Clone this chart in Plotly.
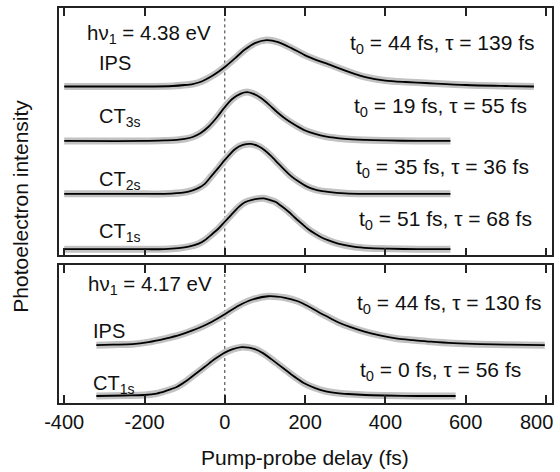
import plotly.graph_objects as go

# ---------------- data ----------------
# top panel, hv1 = 4.38 eV
ips_top_t = [-400, -200, -130, -100, -80, -65, -50, -32, -15, 0, 26, 50, 75, 104, 133, 166, 199, 232, 257, 280, 300, 325, 350, 400, 450, 500, 600, 700, 770]
ips_top_i = [0, 0, 0.01, 0.03, 0.05, 0.08, 0.13, 0.21, 0.30, 0.39, 0.57, 0.74, 0.87, 0.93, 0.89, 0.77, 0.63, 0.52, 0.45, 0.38, 0.32, 0.25, 0.19, 0.12, 0.09, 0.07, 0.03, 0.01, 0]

ct3s_top_t = [-400, -200, -150, -120, -100, -80, -60, -40, -20, 0, 20, 40, 55, 70, 90, 110, 130, 150, 175, 200, 225, 250, 300, 350, 400, 480, 562]
ct3s_top_i = [0, 0, 0.01, 0.02, 0.04, 0.08, 0.16, 0.29, 0.47, 0.68, 0.85, 0.95, 0.98, 0.95, 0.86, 0.73, 0.58, 0.45, 0.32, 0.21, 0.14, 0.09, 0.04, 0.02, 0.01, 0, 0]

ct2s_top_t = [-400, -200, -150, -100, -80, -65, -50, -32, -15, 0, 26, 45, 65, 85, 100, 115, 133, 150, 166, 183, 199, 215, 232, 257, 300, 350, 450, 562]
ct2s_top_i = [0, 0, 0, 0.03, 0.07, 0.12, 0.20, 0.37, 0.53, 0.68, 0.90, 0.98, 1.00, 0.95, 0.87, 0.76, 0.61, 0.47, 0.35, 0.25, 0.17, 0.11, 0.07, 0.04, 0.01, 0, 0, 0]

ct1s_top_t = [-400, -200, -150, -115, -90, -65, -50, -32, -15, 0, 15, 35, 50, 68, 97, 115, 126, 140, 159, 175, 192, 208, 225, 240, 257, 282, 320, 360, 405, 480, 562]
ct1s_top_i = [0, 0, 0, 0.02, 0.05, 0.11, 0.18, 0.30, 0.42, 0.55, 0.68, 0.85, 0.94, 0.99, 1.02, 0.98, 0.95, 0.87, 0.75, 0.63, 0.51, 0.40, 0.31, 0.24, 0.18, 0.11, 0.05, 0.02, 0.01, 0, 0]

# bottom panel, hv1 = 4.17 eV
ips_bot_t = [-320, -280, -230, -190, -148, -110, -82, -55, -32, 0, 34, 67, 108, 150, 182, 210, 232, 265, 282, 310, 348, 389, 430, 470, 513, 570, 637, 700, 797]
ips_bot_i = [0, 0.01, 0.02, 0.06, 0.13, 0.21, 0.29, 0.38, 0.47, 0.62, 0.79, 0.91, 0.98, 0.95, 0.88, 0.77, 0.67, 0.53, 0.46, 0.37, 0.27, 0.19, 0.13, 0.10, 0.07, 0.04, 0.02, 0.01, 0]

ct1s_bot_t = [-320, -250, -200, -170, -148, -120, -98, -75, -49, -25, 0, 20, 42, 60, 75, 95, 116, 137, 158, 178, 199, 225, 249, 280, 307, 350, 400, 480, 575]
ct1s_bot_i = [0, 0.01, 0.02, 0.05, 0.10, 0.18, 0.29, 0.43, 0.59, 0.74, 0.87, 0.94, 0.98, 0.97, 0.94, 0.86, 0.74, 0.61, 0.48, 0.36, 0.25, 0.16, 0.10, 0.06, 0.04, 0.02, 0.01, 0, 0]

x_ticks = [-400, -200, 0, 200, 400, 600, 800]

top_labels = ["IPS", "CT<sub>3s</sub>", "CT<sub>2s</sub>", "CT<sub>1s</sub>"]
top_fits = ["t<sub>0</sub> = 44 fs, τ = 139 fs", "t<sub>0</sub> = 19 fs, τ = 55 fs",
            "t<sub>0</sub> = 35 fs, τ = 36 fs", "t<sub>0</sub> = 51 fs, τ = 68 fs"]
bot_labels = ["IPS", "CT<sub>1s</sub>"]
bot_fits = ["t<sub>0</sub> = 44 fs, τ = 130 fs", "t<sub>0</sub> = 0 fs, τ = 56 fs"]

# ---------------- layout constants ----------------
W, H = 560, 472
ML, MR, MT, MB = 59, 6, 7, 69
PH = H - MT - MB
PW = W - ML - MR
TOP_Y0, TOP_Y1 = 255, 7      # pixel rows of top panel
BOT_Y0, BOT_Y1 = 403, 265    # pixel rows of bottom panel
UNIT = 50.0                   # pixels per intensity unit

def py2paper(py):
    return (H - MB - py) / PH

def px2paper(px):
    return (px - ML) / PW

top_offsets = [(TOP_Y0 - b) / UNIT for b in (85.7, 140.3, 193.3, 248.8)]
bot_offsets = [(BOT_Y0 - b) / UNIT for b in (345.0, 396.0)]

FONT = "Liberation Sans, Arial, sans-serif"
HALO = "#c2c2c2"

fig = go.Figure()

def add_curve(t, vals, off, yaxis):
    y = [off + v for v in vals]
    xa = "x" if yaxis == "y" else "x2"
    fig.add_trace(go.Scatter(x=t, y=y, mode="lines", yaxis=yaxis, xaxis=xa,
                             line=dict(color=HALO, width=7, shape="spline", smoothing=0.8),
                             hoverinfo="skip", showlegend=False))
    fig.add_trace(go.Scatter(x=t, y=y, mode="lines", yaxis=yaxis, xaxis=xa,
                             line=dict(color="#000000", width=1.8, shape="spline", smoothing=0.8),
                             showlegend=False))

for (t, v), off in zip([(ips_top_t, ips_top_i), (ct3s_top_t, ct3s_top_i),
                        (ct2s_top_t, ct2s_top_i), (ct1s_top_t, ct1s_top_i)], top_offsets):
    add_curve(t, v, off, "y2")
for (t, v), off in zip([(ips_bot_t, ips_bot_i), (ct1s_bot_t, ct1s_bot_i)], bot_offsets):
    add_curve(t, v, off, "y")

xr = [-413, 815]
axis_common = dict(showline=True, mirror="ticks", linecolor="#222", linewidth=1.6,
                   showgrid=False, zeroline=False)
# last tick label (800) is drawn as an annotation so it can be nudged inside the page
tick_text = [str(v) for v in x_ticks[:-1]] + [""]
fig.update_layout(
    width=W, height=H,
    margin=dict(l=ML, r=MR, t=MT, b=MB, pad=0),
    paper_bgcolor="white", plot_bgcolor="white",
    font=dict(family=FONT, size=20, color="#111"),
    xaxis=dict(domain=[0, 1], range=xr, anchor="y", tickvals=x_ticks,
               ticktext=tick_text, ticks="inside", ticklen=8, tickwidth=1.5,
               tickcolor="#222", tickfont=dict(size=20, family=FONT, color="#111"), **axis_common),
    xaxis2=dict(domain=[0, 1], range=xr, anchor="y2", tickvals=x_ticks, showticklabels=False,
                ticks="inside", ticklen=8, tickwidth=1.5, tickcolor="#222", matches="x", **axis_common),
    yaxis=dict(domain=[0, py2paper(BOT_Y1)], range=[0, (BOT_Y0 - BOT_Y1) / UNIT],
               showticklabels=False, ticks="", anchor="x", **axis_common),
    yaxis2=dict(domain=[py2paper(TOP_Y0), 1], range=[0, (TOP_Y0 - TOP_Y1) / UNIT],
                showticklabels=False, ticks="", anchor="x2", **axis_common),
)

# dotted time-zero lines
for yref in ("y domain", "y2 domain"):
    fig.add_shape(type="line", xref="x", yref=yref, x0=0, x1=0, y0=0, y1=1,
                  line=dict(color="#333", width=1, dash="dot"), layer="below")

def ann(text, px, py, xanchor="left", size=20, angle=0):
    fig.add_annotation(text=text, xref="paper", yref="paper", x=px2paper(px), y=py2paper(py),
                       xanchor=xanchor, yanchor="middle", showarrow=False, textangle=angle,
                       font=dict(family=FONT, size=size, color="#111"))

ann("hν<sub>1</sub> = 4.38 eV", 85, 33, size=20.5)
ann("hν<sub>1</sub> = 4.17 eV", 86, 285, size=20.5)
for lab, py in zip(top_labels, (62, 117, 180, 232)):
    ann(lab, 97, py)
for lab, py in zip(bot_labels, (331, 384)):
    ann(lab, 91, py)
for txt, cx, py in zip(top_fits, (444, 442, 444, 447), (43, 106, 167, 220)):
    ann(txt, cx, py, xanchor="center", size=21)
for txt, cx, py in zip(bot_fits, (451, 442), (304, 371)):
    ann(txt, cx, py, xanchor="center", size=21)

# 800 tick label
fig.add_annotation(text=str(x_ticks[-1]), xref="paper", yref="paper", x=px2paper(557), y=py2paper(422),
                   xanchor="right", yanchor="middle", showarrow=False,
                   font=dict(family=FONT, size=20, color="#111"))

ann("Pump-probe delay (fs)", 306, 458, xanchor="center", size=21)
ann("Photoelectron intensity", 20, 206, xanchor="center", size=21, angle=-90)

fig.write_html("out.html")
